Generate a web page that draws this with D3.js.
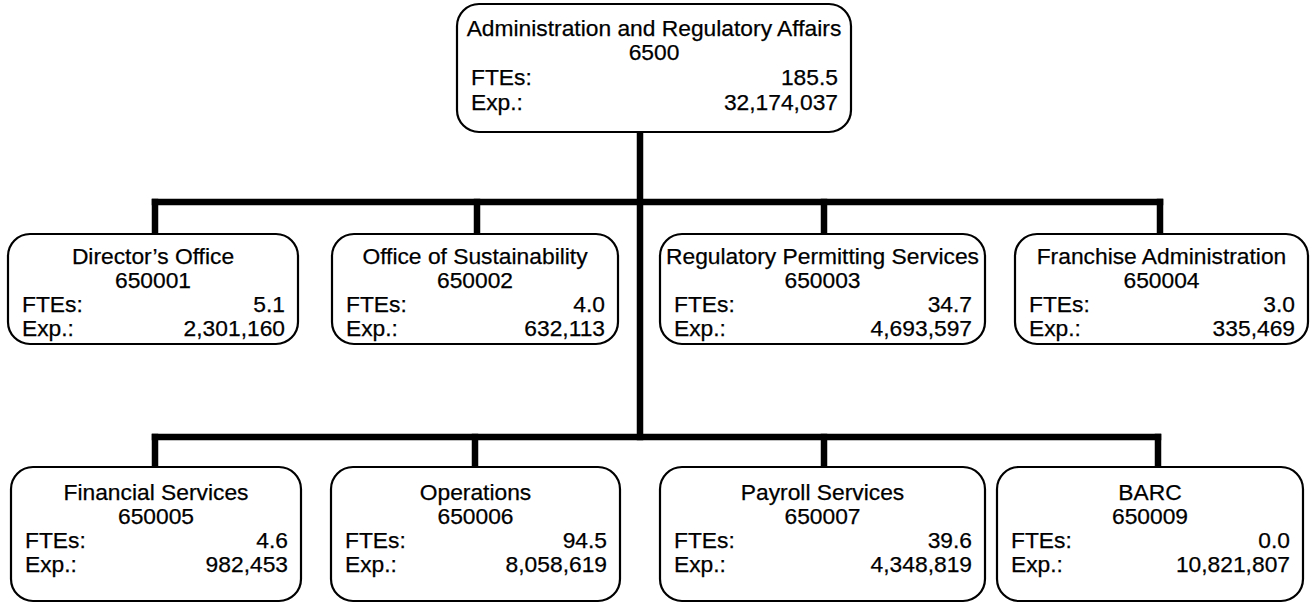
<!DOCTYPE html>
<html>
<head>
<meta charset="utf-8">
<script src="https://cdn.jsdelivr.net/npm/d3@7"></script>
<style>
  html, body { margin: 0; padding: 0; background: #fff; }
  svg { display: block; }
  text { font-family: "Liberation Sans", Arial, sans-serif; font-size: 22.8px; fill: #000; stroke: #000; stroke-width: 0.25px; }
</style>
</head>
<body>
<svg id="chart" width="1313" height="603"></svg>
<script>
// ---- data ----
const rootName = "Administration and Regulatory Affairs";
const rootCode = "6500";
const rootFTE = "185.5";
const rootExp = "32,174,037";

const unitNames = ["Director\u2019s Office", "Office of Sustainability", "Regulatory Permitting Services", "Franchise Administration",
                   "Financial Services", "Operations", "Payroll Services", "BARC"];
const unitCodes = ["650001", "650002", "650003", "650004", "650005", "650006", "650007", "650009"];
const unitFTEs  = [5.1, 4.0, 34.7, 3.0, 4.6, 94.5, 39.6, 0.0];
const unitExps  = [2301160, 632113, 4693597, 335469, 982453, 8058619, 4348819, 10821807];
const fteLabel = "FTEs:";
const expLabel = "Exp.:";

// ---- layout ----
const svg = d3.select("#chart");
const lineW = 6.5;
const trunkX = 640;

const rowY = d3.scaleOrdinal().domain([0, 1]).range([202, 437]);       // connector bus y
const boxTop = d3.scaleOrdinal().domain([0, 1]).range([234, 467]);
const boxBot = d3.scaleOrdinal().domain([0, 1]).range([344, 601]);
const dropX = [d3.scaleOrdinal().domain([0,1,2,3]).range([155, 477, 824, 1160]),
               d3.scaleOrdinal().domain([0,1,2,3]).range([155, 475, 824, 1158])];
const boxL = [d3.scaleOrdinal().domain([0,1,2,3]).range([8, 332, 660, 1015]),
              d3.scaleOrdinal().domain([0,1,2,3]).range([11, 331, 660, 997])];
const boxR = [d3.scaleOrdinal().domain([0,1,2,3]).range([298, 618, 985, 1308]),
              d3.scaleOrdinal().domain([0,1,2,3]).range([301, 620, 985, 1303])];

const fmtFTE = d3.format(".1f");
const fmtExp = d3.format(",");

const units = unitNames.map((n, i) => ({
  name: n, code: unitCodes[i], fte: fmtFTE(unitFTEs[i]), exp: fmtExp(unitExps[i]),
  row: Math.floor(i / 4), col: i % 4
}));

// ---- connectors ----
const conn = svg.append("g").attr("stroke", "#000").attr("stroke-width", lineW).attr("fill", "none");
conn.append("line").attr("x1", trunkX).attr("x2", trunkX).attr("y1", 132).attr("y2", rowY(1) + lineW / 2);
[0, 1].forEach(r => {
  conn.append("line")
    .attr("x1", dropX[r](0) - lineW / 2).attr("x2", dropX[r](3) + lineW / 2)
    .attr("y1", rowY(r)).attr("y2", rowY(r));
});
units.forEach(u => {
  conn.append("line")
    .attr("x1", dropX[u.row](u.col)).attr("x2", dropX[u.row](u.col))
    .attr("y1", rowY(u.row) - lineW / 2).attr("y2", boxTop(u.row));
});

// ---- boxes ----
function drawBox(x0, x1, y0, y1, name, code, fte, exp, ys) {
  const g = svg.append("g");
  g.append("rect").attr("x", x0).attr("y", y0).attr("width", x1 - x0).attr("height", y1 - y0)
    .attr("rx", 22).attr("ry", 22).attr("fill", "#fff").attr("stroke", "#000").attr("stroke-width", 2.2);
  const cx = (x0 + x1) / 2;
  g.append("text").attr("x", cx).attr("y", ys[0]).attr("text-anchor", "middle").text(name);
  g.append("text").attr("x", cx).attr("y", ys[1]).attr("text-anchor", "middle").text(code);
  g.append("text").attr("x", x0 + 14).attr("y", ys[2]).text(fteLabel);
  g.append("text").attr("x", x1 - 13).attr("y", ys[2]).attr("text-anchor", "end").text(fte);
  g.append("text").attr("x", x0 + 14).attr("y", ys[3]).text(expLabel);
  g.append("text").attr("x", x1 - 13).attr("y", ys[3]).attr("text-anchor", "end").text(exp);
}

drawBox(457, 851, 4, 132, rootName, rootCode, rootFTE, rootExp, [36, 60, 85, 110]);

const rowText = [[264, 288, 312, 336], [500, 524, 548, 572]];
units.forEach(u => {
  drawBox(boxL[u.row](u.col), boxR[u.row](u.col), boxTop(u.row), boxBot(u.row),
          u.name, u.code, u.fte, u.exp, rowText[u.row]);
});
</script>
</body>
</html>
